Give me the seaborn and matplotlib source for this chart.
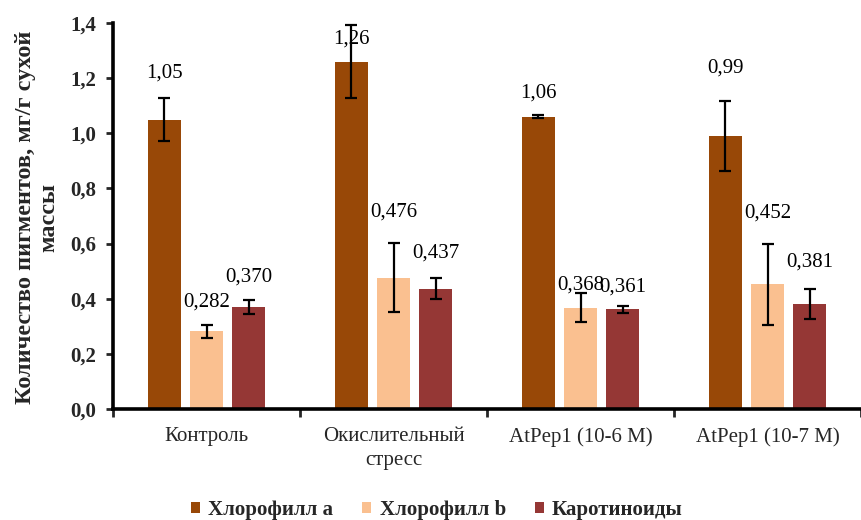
import matplotlib
matplotlib.use("Agg")
import matplotlib.pyplot as plt
import pandas as pd
import seaborn as sns

# Pigment content per treatment (mg/g dry mass)
categories = ["Контроль", "Окислительный\nстресс", "AtPep1 (10-6 M)", "AtPep1 (10-7 M)"]
series = ["Хлорофилл а", "Хлорофилл b", "Каротиноиды"]
chl_a = [1.05, 1.26, 1.06, 0.99]
chl_b = [0.282, 0.476, 0.368, 0.452]
carot = [0.370, 0.437, 0.361, 0.381]
chl_a_err = [0.077, 0.133, 0.006, 0.127]
chl_b_err = [0.023, 0.125, 0.052, 0.148]
carot_err = [0.025, 0.038, 0.011, 0.056]
y_ticks = [0.0, 0.2, 0.4, 0.6, 0.8, 1.0, 1.2, 1.4]

values = [chl_a, chl_b, carot]
errors = [chl_a_err, chl_b_err, carot_err]
decimals = [2, 3, 3]
colors = ["#984807", "#FAC090", "#953735"]

# Vertical placement of the value labels (data units)
label_y = [
    [1.22, 1.34, 1.147, 1.236],
    [0.389, 0.716, 0.45, 0.712],
    [0.48, 0.566, 0.444, 0.534],
]

df = pd.DataFrame({
    "category": [c for s in series for c in categories],
    "series": [s for s in series for _ in categories],
    "value": [v for vals in values for v in vals],
})

sns.set_theme(style="white")
plt.rcParams["font.family"] = ["Liberation Serif", "DejaVu Serif"]

fig = plt.figure(figsize=(8.61, 5.2), dpi=100)
ax = fig.add_axes([113 / 861, 111 / 520, 748 / 861, 386 / 520])

sns.barplot(
    data=df, x="category", y="value", hue="series",
    order=categories, hue_order=series, palette=colors,
    width=0.674, gap=0.23, errorbar=None, saturation=1,
    linewidth=0, ax=ax,
)

# Error bars and value labels placed at each bar's centre
bar_groups = list(ax.containers)
for i, cont in enumerate(bar_groups):
    for j, bar in enumerate(cont.patches):
        xc = bar.get_x() + bar.get_width() / 2
        ax.errorbar(xc, values[i][j], yerr=errors[i][j], fmt="none",
                    ecolor="black", elinewidth=1.6, capsize=4.3, capthick=1.6,
                    zorder=4)
        txt = f"{values[i][j]:.{decimals[i]}f}".replace(".", ",")
        ax.text(xc, label_y[i][j], txt, ha="center", va="center",
                fontsize=15, color="black", zorder=5)

ax.set_ylim(0, 1.4)
ax.set_xlim(-0.5, 3.5)
ax.set_yticks(y_ticks)
ax.set_yticklabels([f"{t:.1f}".replace(".", ",") for t in y_ticks],
                   fontsize=15, fontweight="bold")
ax.tick_params(axis="y", direction="out", length=5, width=2, pad=7, left=True)

# Category boundaries as major ticks, names on minor ticks
ax.set_xticks([-0.5, 0.5, 1.5, 2.5, 3.5])
ax.set_xticklabels([])
ax.set_xticks(range(len(categories)), minor=True)
ax.set_xticklabels(categories, minor=True, fontsize=15, linespacing=1.35)
ax.tick_params(axis="x", which="major", direction="out", length=6, width=2,
               bottom=True)
ax.tick_params(axis="x", which="minor", length=0, pad=13)

ax.set_xlabel("")
ax.set_ylabel("")
for side in ["top", "right"]:
    ax.spines[side].set_visible(False)
for side in ["left", "bottom"]:
    ax.spines[side].set_linewidth(2.6)
    ax.spines[side].set_color("black")

fig.text(37 / 861, (520 - 217) / 520,
         "Количество пигментов, мг/г сухой\nмассы",
         rotation=90, ha="center", va="center", multialignment="center",
         fontsize=17.5, fontweight="bold", linespacing=1.15)

handles, labels = ax.get_legend_handles_labels()
ax.get_legend().remove()
fig.legend(handles, labels, loc="center", bbox_to_anchor=(437 / 861, 10 / 520),
           ncol=3, frameon=False, handlelength=0.42, handleheight=0.42,
           handletextpad=0.4, columnspacing=1.4,
           prop={"weight": "bold", "size": 15})

fig.savefig("out.png", dpi=100)
